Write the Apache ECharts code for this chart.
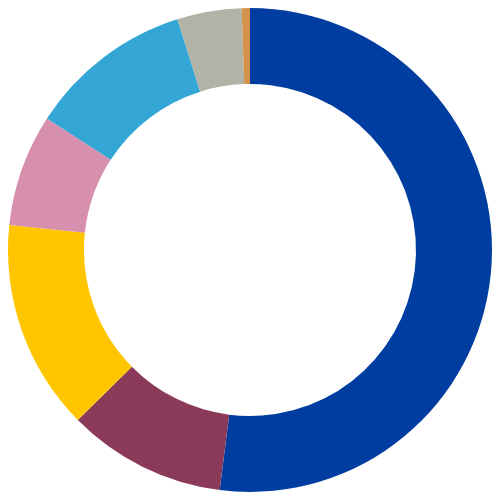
<!DOCTYPE html>
<html>
<head>
<meta charset="utf-8">
<script src="https://cdn.jsdelivr.net/npm/echarts@6/dist/echarts.min.js"></script>
<style>
  html, body { margin: 0; padding: 0; background: #fff; }
  #main { width: 500px; height: 500px; }
</style>
</head>
<body>
<div id="main"></div>
<script>
    // slices, clockwise from 12 o'clock
    var names = ['A', 'B', 'C', 'D', 'E', 'F', 'G'];
    var values = [52.0, 10.6, 14.05, 7.5, 11.0, 4.3, 0.55];
    var colors = ['#003da0', '#8b3a5a', '#ffc600', '#d690ad', '#33a6d6', '#b0b3a5', '#d4914a'];

    var myChart = echarts.init(document.getElementById('main'));
    var data = [];
    for (var i = 0; i < values.length; i++) {
        data.push({ name: names[i], value: values[i], itemStyle: { color: colors[i] } });
    }
    var option = {
        animation: false,
        series: [{
            type: 'pie',
            center: ['50%', '50%'],
            radius: ['66.4%', '96.8%'],
            startAngle: 90,
            clockwise: true,
            silent: true,
            label: { show: false },
            labelLine: { show: false },
            itemStyle: { borderWidth: 0 },
            data: data
        }]
    };
    myChart.setOption(option);
</script>
</body>
</html>
